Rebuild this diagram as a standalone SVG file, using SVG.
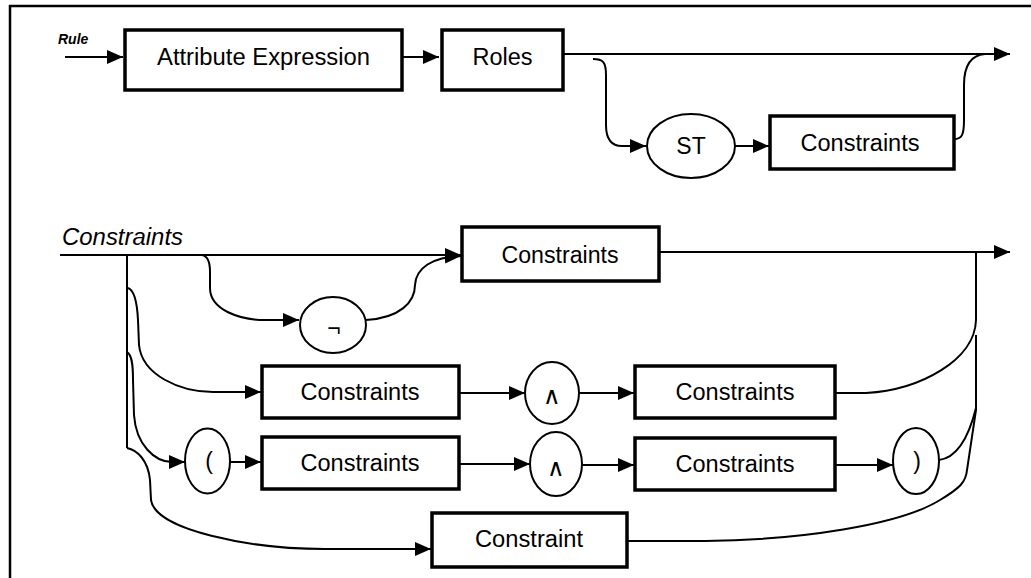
<svg xmlns="http://www.w3.org/2000/svg" width="1031" height="578" viewBox="0 0 1031 578">
<defs>
<style>
.box{fill:#fff;stroke:#000;stroke-width:3.5}
.oval{fill:#fff;stroke:#000;stroke-width:2}
.c{fill:none;stroke:#000;stroke-width:2}
.t{font-family:"Liberation Sans",Arial,sans-serif;font-size:23px;text-anchor:middle;fill:#000}
.sym{font-family:"DejaVu Sans","Liberation Sans",sans-serif;font-size:24px;font-weight:300;text-anchor:middle;fill:#000}
.lbl{font-family:"Liberation Sans",Arial,sans-serif;fill:#000}
</style>
<marker id="ah" markerWidth="16" markerHeight="14" refX="16" refY="7" orient="auto" markerUnits="userSpaceOnUse">
<path d="M0,0 L16,7 L0,14 z" fill="#000"/>
</marker>
</defs>
<rect width="1031" height="578" fill="#fff"/>
<path d="M10,578 L10,6 L1031,6" fill="none" stroke="#000" stroke-width="2.5"/>

<text class="lbl" x="58" y="44" font-size="14" font-weight="bold" font-style="italic">Rule</text>
<text class="lbl" x="62" y="245" font-size="23" font-style="italic" textLength="121" lengthAdjust="spacingAndGlyphs">Constraints</text>

<g id="connectors">
<path class="c" d="M65,57 L123,57" marker-end="url(#ah)"/>
<path class="c" d="M402,57 L439,57" marker-end="url(#ah)"/>
<path class="c" d="M563,54 L1010,54" marker-end="url(#ah)"/>
<path class="c" d="M593,59 C603,59 606,62 606,75 L606,125 C606,140 612,146 622,146 L646,146" marker-end="url(#ah)"/>
<path class="c" d="M735,146 L769,146" marker-end="url(#ah)"/>
<path class="c" d="M954,139 C962,139 964,135 964,120 L964,85 C964,65 972,55 985,54"/>

<path class="c" d="M60,255 L461,255" marker-end="url(#ah)"/>
<path class="c" d="M652,252 L1010,252" marker-end="url(#ah)"/>
<path class="c" d="M202,255 C208,256 210,262 210,272 L210,288 C210,310 240,320 265,320 L299,320" marker-end="url(#ah)"/>
<path class="c" d="M366,320 C400,318 415,302 415,285 C416,268 432,257 461,256" marker-end="url(#ah)"/>
<path class="c" d="M127,255 L127,448"/>
<path class="c" d="M128,288 C134,290 137,300 138,320 L139,345 C142,375 180,392 213,392 L261,392" marker-end="url(#ah)"/>
<path class="c" d="M459,393 L525,393" marker-end="url(#ah)"/>
<path class="c" d="M579,393 L634,393" marker-end="url(#ah)"/>
<path class="c" d="M835,393 L866,393 C920,390 975,360 976,320 L976,252"/>

<path class="c" d="M127,352 C132,355 133,365 133,380 L134,415 C136,445 155,462 172,462 L185,462" marker-end="url(#ah)"/>
<path class="c" d="M230,462 L261,462" marker-end="url(#ah)"/>
<path class="c" d="M459,464 L530,464" marker-end="url(#ah)"/>
<path class="c" d="M582,465 L634,465" marker-end="url(#ah)"/>
<path class="c" d="M831,465 L893,465" marker-end="url(#ah)"/>
<path class="c" d="M939,460 C955,458 968,440 976,408"/>

<path class="c" d="M127,448 C137,450 148,460 150,480 L151,500 C155,530 250,549 325,549 L431,549" marker-end="url(#ah)"/>
<path class="c" d="M627,541 L705,541 C800,540 900,525 940,500 C960,488 966,482 967,470 L976,410 L976,335"/>
</g>

<g id="attr-expr"><rect class="box" x="125" y="30" width="277" height="60"/><text class="t" x="263.5" y="65" textLength="213" lengthAdjust="spacingAndGlyphs">Attribute Expression</text></g>
<g id="roles"><rect class="box" x="442" y="30" width="121" height="60"/><text class="t" x="502.5" y="65" textLength="60" lengthAdjust="spacingAndGlyphs">Roles</text></g>
<g id="st"><ellipse class="oval" cx="691" cy="146" rx="44" ry="32"/><text class="t" x="691" y="154">ST</text></g>
<g id="constraints-top"><rect class="box" x="770" y="116" width="184" height="53"/><text class="t" x="860" y="151" textLength="119" lengthAdjust="spacingAndGlyphs">Constraints</text></g>

<g id="constraints-main"><rect class="box" x="462" y="227" width="197" height="54"/><text class="t" x="560" y="263" textLength="117" lengthAdjust="spacingAndGlyphs">Constraints</text></g>
<g id="not"><ellipse class="oval" cx="333" cy="325" rx="33" ry="28"/><text class="t" x="334" y="336">¬</text></g>

<g id="and-left"><rect class="box" x="262" y="366" width="197" height="52"/><text class="t" x="360" y="400" textLength="119" lengthAdjust="spacingAndGlyphs">Constraints</text></g>
<g id="and-op"><ellipse class="oval" cx="552" cy="393" rx="27" ry="31"/><text class="sym" x="552" y="404">∧</text></g>
<g id="and-right"><rect class="box" x="635" y="366" width="200" height="52"/><text class="t" x="735" y="400" textLength="119" lengthAdjust="spacingAndGlyphs">Constraints</text></g>

<g id="lparen"><ellipse class="oval" cx="207.5" cy="461" rx="22.5" ry="32.5"/><text class="t" x="209" y="469">(</text></g>
<g id="par-left"><rect class="box" x="262" y="437" width="197" height="52"/><text class="t" x="360" y="471" textLength="119" lengthAdjust="spacingAndGlyphs">Constraints</text></g>
<g id="par-and"><ellipse class="oval" cx="556" cy="464" rx="26" ry="32"/><text class="sym" x="556" y="476">∧</text></g>
<g id="par-right"><rect class="box" x="635" y="438" width="200" height="52"/><text class="t" x="735" y="472" textLength="119" lengthAdjust="spacingAndGlyphs">Constraints</text></g>
<g id="rparen"><ellipse class="oval" cx="916" cy="461" rx="23" ry="33"/><text class="t" x="917" y="469">)</text></g>

<g id="constraint"><rect class="box" x="432" y="513" width="195" height="54"/><text class="t" x="529" y="547" textLength="108" lengthAdjust="spacingAndGlyphs">Constraint</text></g>
</svg>
